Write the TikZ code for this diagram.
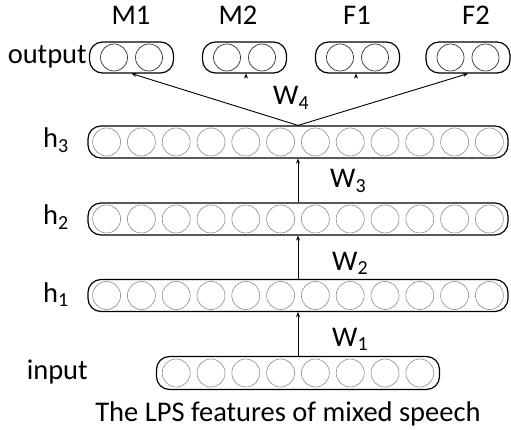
\documentclass[tikz,border=0pt]{standalone}
\usepackage{fontspec}
\setmainfont{Carlito}
\usetikzlibrary{arrows.meta}
\begin{document}
\begin{tikzpicture}[x=1pt,y=-1pt,
  layer/.style={draw=black, line width=1.2pt, rounded corners=13pt, minimum height=32pt, inner sep=0pt},
  neuron/.style={circle, draw=black!45, line width=0.6pt, minimum size=28pt, inner sep=0pt},
  outneuron/.style={circle, draw=black!80, line width=0.7pt, minimum size=27pt, inner sep=0pt},
  lbl/.style={font=\fontsize{28.5}{33}\selectfont, inner sep=0pt},
  conn/.style={line width=0.9pt, -{Stealth[length=5pt,width=4pt]}}
]
\useasboundingbox (0,0) rectangle (511,430);

% hidden layers
\foreach \n/\y in {h3/142, h2/219, h1/295.5}{
  \node[layer, minimum width=420pt] (\n) at (298,\y) {};
  \foreach \i in {1,...,12}
    \node[neuron] (\n c\i) at ({298+(\i-6.5)*34.8},\y) {};
}
% input layer
\node[layer, minimum width=283pt, minimum height=33pt] (in) at (298,373) {};
\foreach \i in {1,...,8}
  \node[neuron] (inc\i) at ({298+(\i-4.5)*34.8},373) {};

% output groups
\foreach \n/\x in {o1/131.5, o2/244.5, o3/357.5, o4/468}{
  \node[layer, minimum width=84pt, minimum height=31pt] (\n) at (\x,57.5) {};
  \node[outneuron] (\n a) at (\x-17.5,57.5) {};
  \node[outneuron] (\n b) at (\x+17.5,57.5) {};
}

% labels
\node[lbl, anchor=base] (lm1) at (131,25) {M1};
\node[lbl, anchor=base] (lm2) at (238,25) {M2};
\node[lbl, anchor=base] (lf1) at (357,25) {F1};
\node[lbl, anchor=base] (lf2) at (476,25) {F2};
\node[lbl, anchor=base east] (lout) at (87,64) {output};
\node[lbl, anchor=base east] (lh3) at (69,148) {h\textsubscript{3}};
\node[lbl, anchor=base east] (lh2) at (69,225) {h\textsubscript{2}};
\node[lbl, anchor=base east] (lh1) at (69,302) {h\textsubscript{1}};
\node[lbl, anchor=base east] (lin) at (88,379) {input};
\node[lbl, anchor=base] (cap) at (288,421) {The LPS features of mixed speech};
\node[lbl, anchor=base west] (w4) at (273,105) {W\textsubscript{4}};
\node[lbl, anchor=base west] (w3) at (330,188) {W\textsubscript{3}};
\node[lbl, anchor=base west] (w2) at (332,270) {W\textsubscript{2}};
\node[lbl, anchor=base west] (w1) at (332,346) {W\textsubscript{1}};

% connectors
\draw[conn] (in.north) -- (h1.south);
\draw[conn] (h1.north) -- (h2.south);
\draw[conn] (h2.north) -- (h3.south);
\draw[conn] (h3.north) -- (o1.south);
\draw[conn] (h3.north) -- (o4.south);
\coordinate (t2) at ([xshift=1.5pt,yshift=-2pt]o2.south);
\coordinate (t3) at ([xshift=-1.5pt,yshift=-2pt]o3.south);
\draw[conn] (t2) -- ([xshift=1.5pt]o2.south);
\draw[conn] (t3) -- ([xshift=-1.5pt]o3.south);
\end{tikzpicture}
\end{document}
